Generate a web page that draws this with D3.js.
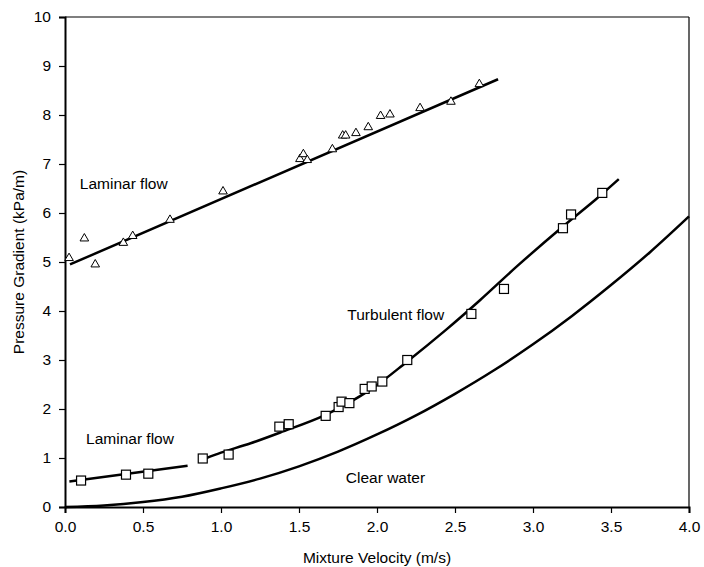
<!DOCTYPE html>
<html>
<head>
<meta charset="utf-8">
<script src="https://cdn.jsdelivr.net/npm/d3@7"></script>
<style>
    body { margin: 0; background: #fff; }
    svg { font-family: Arial, "Liberation Sans", sans-serif; }
</style>
</head>
<body>
<div id="chart"></div>
<script>
// laminar flow, upper set (triangles)
const triX = [0.026, 0.124, 0.194, 0.374, 0.434, 0.673, 1.013, 1.506, 1.528, 1.553, 1.714, 1.780, 1.799, 1.865, 1.944, 2.023, 2.083, 2.276, 2.474, 2.656];
const triY = [5.08, 5.48, 4.95, 5.39, 5.53, 5.86, 6.44, 7.10, 7.20, 7.08, 7.30, 7.58, 7.58, 7.63, 7.75, 7.98, 8.01, 8.14, 8.27, 8.63];

// squares: lower laminar + turbulent
const sqX = [0.103, 0.391, 0.534, 0.883, 1.049, 1.374, 1.434, 1.671, 1.754, 1.773, 1.823, 1.921, 1.966, 2.034, 2.194, 2.605, 2.814, 3.192, 3.244, 3.444];
const sqY = [0.54, 0.66, 0.68, 0.99, 1.07, 1.64, 1.69, 1.86, 2.04, 2.15, 2.12, 2.41, 2.46, 2.56, 3.00, 3.94, 4.45, 5.69, 5.97, 6.41];

// fitted lines
const upperLineX = [0.032, 2.776];
const upperLineY = [4.95, 8.73];
const lowerLineX = [0.028, 0.786];
const lowerLineY = [0.52, 0.84];
const turbX = [0.90, 1.00, 1.19, 1.38, 1.67, 1.96, 2.19, 2.44, 2.66, 2.90, 3.19, 3.40, 3.55];
const turbY = [0.99, 1.11, 1.30, 1.52, 1.88, 2.40, 2.96, 3.61, 4.22, 4.92, 5.72, 6.27, 6.69];
const waterX = [0, 0.25, 0.5, 0.75, 1.0, 1.25, 1.5, 1.75, 2.0, 2.25, 2.5, 2.75, 3.0, 3.25, 3.5, 3.75, 4.0];
const waterY = [0, 0.03, 0.10, 0.21, 0.38, 0.58, 0.83, 1.13, 1.48, 1.87, 2.31, 2.79, 3.32, 3.90, 4.53, 5.20, 5.93];

const xTicks = [0, 0.5, 1.0, 1.5, 2.0, 2.5, 3.0, 3.5, 4.0];
const yTicks = [0, 1, 2, 3, 4, 5, 6, 7, 8, 9, 10];

const labels = [
    { text: 'Laminar flow', x: 0.095, y: 6.5 },
    { text: 'Laminar flow', x: 0.135, y: 1.28 },
    { text: 'Turbulent flow', x: 1.81, y: 3.82 },
    { text: 'Clear water', x: 1.80, y: 0.49 }
];

const width = 704, height = 567;
const margin = { top: 17, right: 15, bottom: 60, left: 65 };
const w = width - margin.left - margin.right;
const h = height - margin.top - margin.bottom;

const svg = d3.select('#chart').append('svg')
    .attr('width', width)
    .attr('height', height);

const g = svg.append('g')
    .attr('transform', `translate(${margin.left}, ${margin.top})`);

const x = d3.scaleLinear().domain([0, 4]).range([0, w]);
const y = d3.scaleLinear().domain([0, 10]).range([h, 0]);

// frame (top and right)
g.append('line').attr('x1', 0).attr('x2', w).attr('y1', 0).attr('y2', 0)
    .attr('stroke', '#000').attr('stroke-width', 1.2);
g.append('line').attr('x1', w).attr('x2', w).attr('y1', 0).attr('y2', h)
    .attr('stroke', '#000').attr('stroke-width', 1.2);

// axes
const xAxis = g.append('g')
    .attr('transform', `translate(0, ${h})`)
    .call(d3.axisBottom(x).tickValues(xTicks).tickFormat(d3.format('.1f')).tickSize(6).tickPadding(8));
const yAxis = g.append('g')
    .call(d3.axisLeft(y).tickValues(yTicks).tickSize(6).tickPadding(8));

[xAxis, yAxis].forEach(a => {
    a.select('.domain').attr('stroke', '#000').attr('stroke-width', 2);
    a.selectAll('.tick line').attr('stroke', '#000').attr('stroke-width', 1.2);
    a.selectAll('.tick text')
        .attr('fill', '#000')
        .style('font-size', '15.5px')
        .style('font-family', 'Arial, "Liberation Sans", sans-serif');
});

// axis titles
svg.append('text')
    .attr('x', margin.left + w / 2)
    .attr('y', 563)
    .attr('text-anchor', 'middle')
    .style('font-size', '15.5px')
    .text('Mixture Velocity (m/s)');

svg.append('text')
    .attr('transform', `translate(24, ${margin.top + h / 2}) rotate(-90)`)
    .attr('text-anchor', 'middle')
    .style('font-size', '15.5px')
    .text('Pressure Gradient (kPa/m)');

// lines
const zip = (xs, ys) => xs.map((v, i) => ({ x: v, y: ys[i] }));
const line = d3.line().x(d => x(d.x)).y(d => y(d.y));
const curve = d3.line().x(d => x(d.x)).y(d => y(d.y)).curve(d3.curveCatmullRom);

[[upperLineX, upperLineY, line], [lowerLineX, lowerLineY, line],
 [turbX, turbY, curve], [waterX, waterY, curve]].forEach(([xs, ys, gen]) => {
    g.append('path')
        .datum(zip(xs, ys))
        .attr('fill', 'none')
        .attr('stroke', '#000')
        .attr('stroke-width', 2.5)
        .attr('d', gen);
});

// markers
g.selectAll('.tri')
    .data(zip(triX, triY))
    .enter().append('path')
    .attr('class', 'tri')
    .attr('transform', d => `translate(${x(d.x)}, ${y(d.y)})`)
    .attr('d', d3.symbol().type(d3.symbolTriangle).size(32))
    .attr('fill', '#fff')
    .attr('stroke', '#000')
    .attr('stroke-width', 1);

g.selectAll('.sq')
    .data(zip(sqX, sqY))
    .enter().append('rect')
    .attr('class', 'sq')
    .attr('x', d => x(d.x) - 4.5)
    .attr('y', d => y(d.y) - 4.5)
    .attr('width', 9)
    .attr('height', 9)
    .attr('fill', '#fff')
    .attr('stroke', '#000')
    .attr('stroke-width', 1.2);

// annotations
g.selectAll('.lbl')
    .data(labels)
    .enter().append('text')
    .attr('class', 'lbl')
    .attr('x', d => x(d.x))
    .attr('y', d => y(d.y))
    .style('font-size', '15.5px')
    .text(d => d.text);
</script>
</body>
</html>
